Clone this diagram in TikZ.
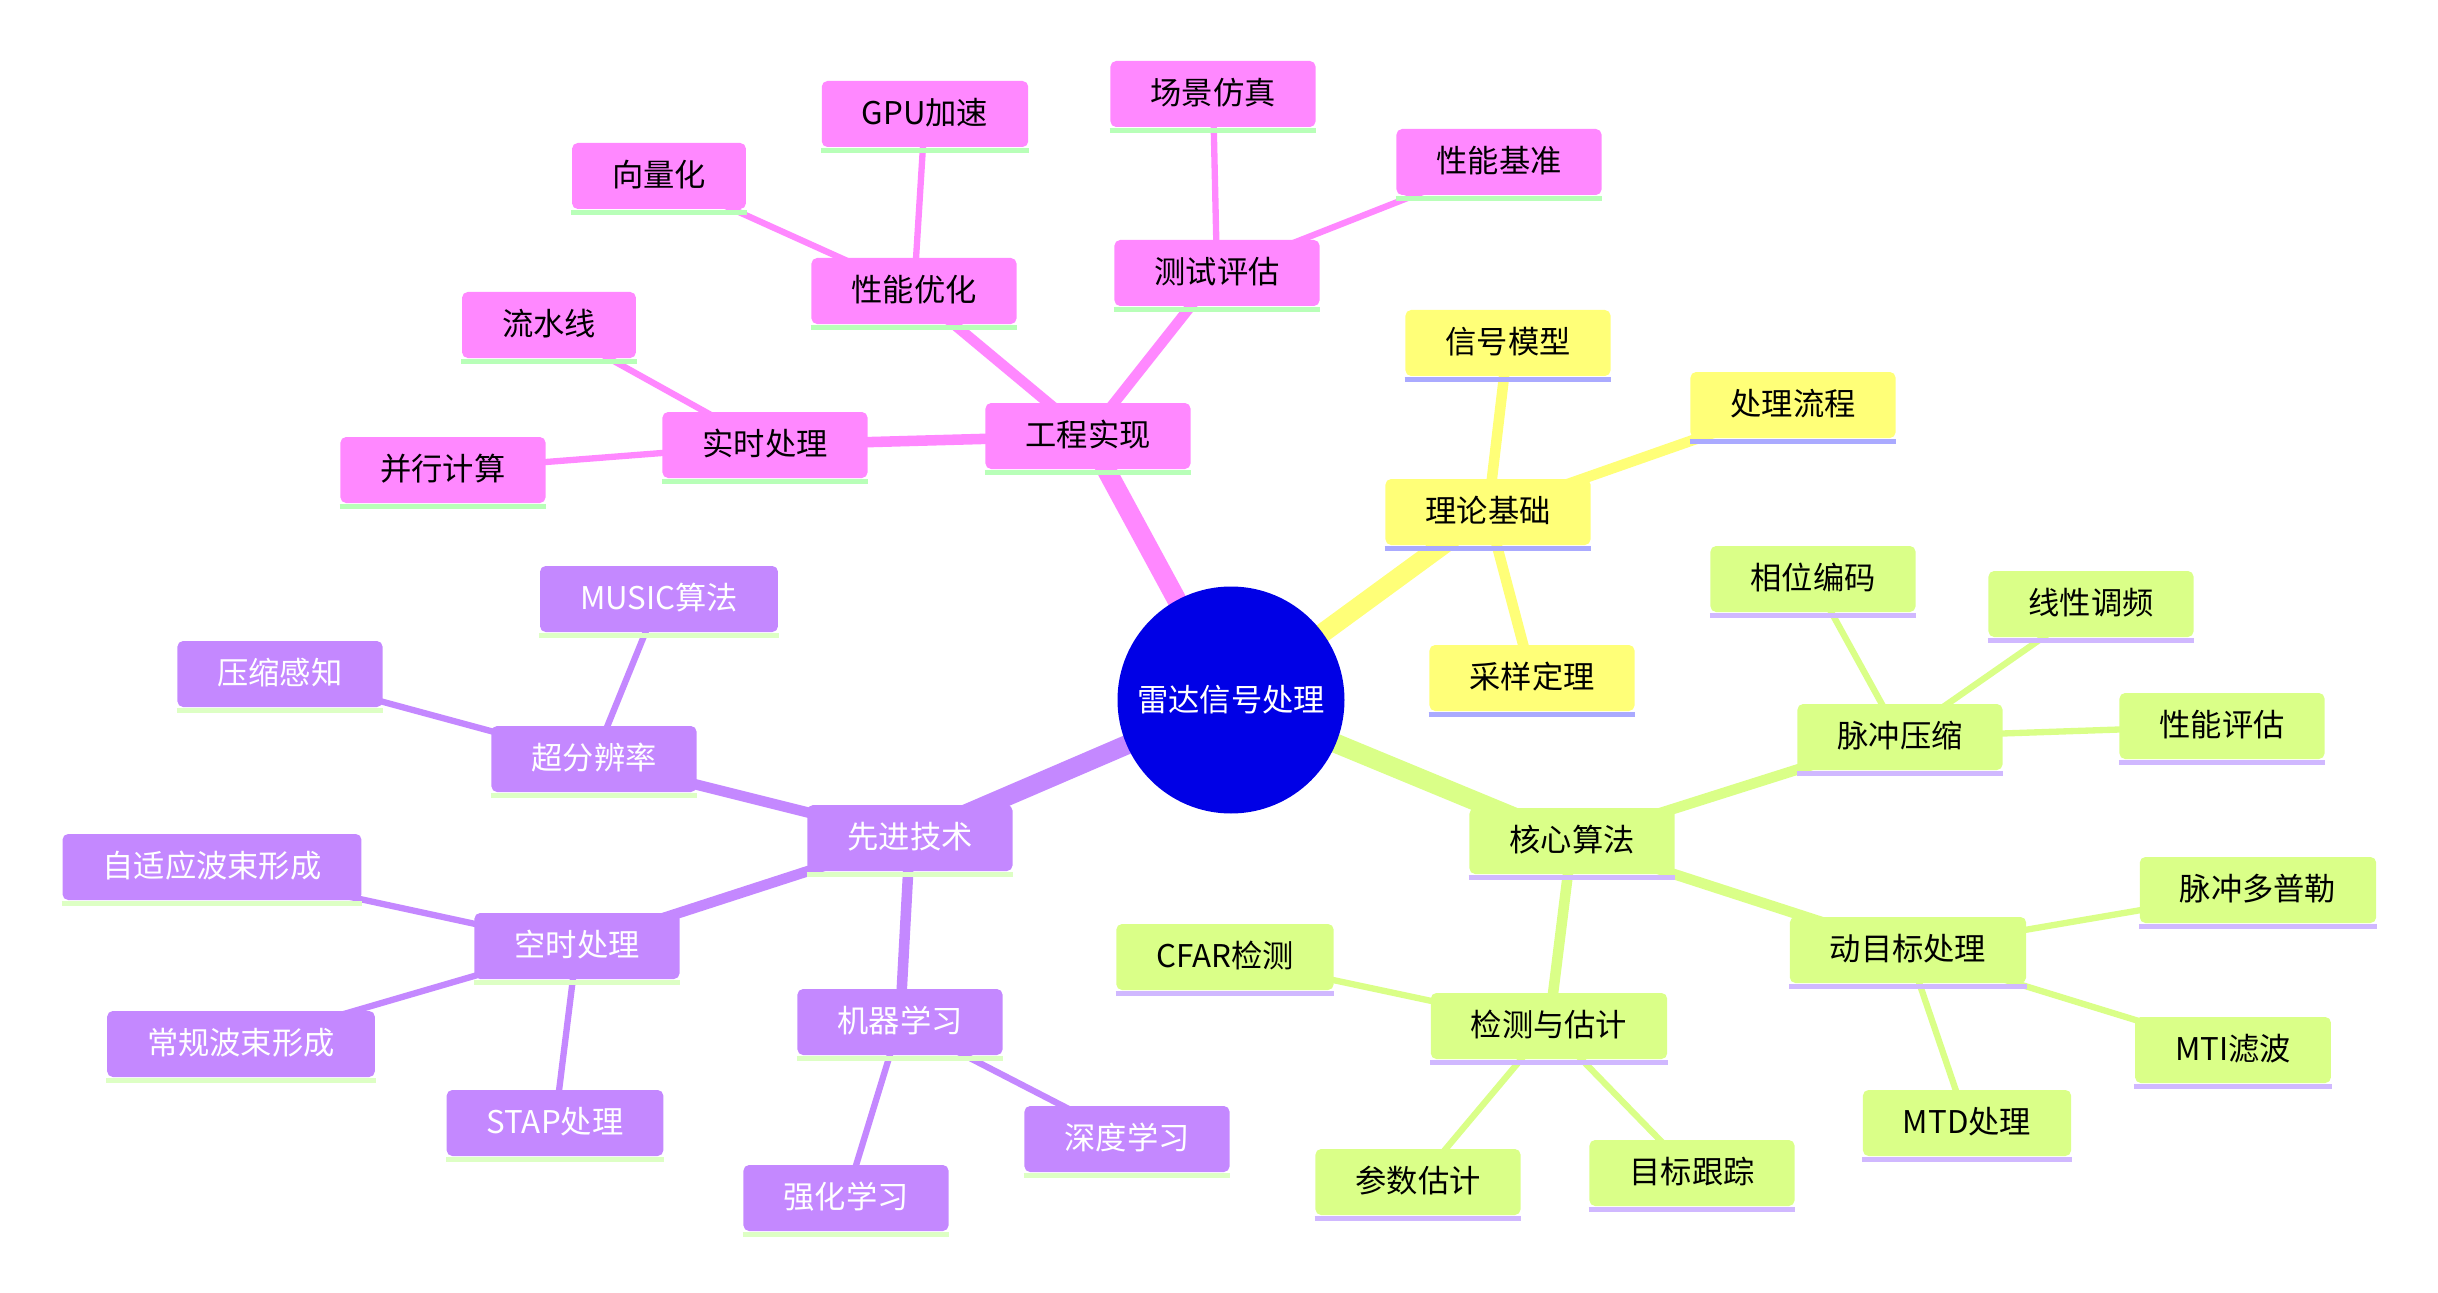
\documentclass[tikz,border=0pt]{standalone}
\usepackage{fontspec}
\setmainfont{Noto Sans CJK SC}
\usetikzlibrary{backgrounds}

\definecolor{rootblue}{RGB}{0,0,230}
\definecolor{engpink}{RGB}{255,136,255}
\definecolor{thyellow}{RGB}{255,255,120}
\definecolor{coregreen}{RGB}{218,255,136}
\definecolor{advpurple}{RGB}{196,136,255}
\definecolor{engline}{RGB}{184,255,184}
\definecolor{thline}{RGB}{170,170,255}
\definecolor{coreline}{RGB}{208,184,255}
\definecolor{advline}{RGB}{221,255,196}

\begin{document}
\begin{tikzpicture}[
  box/.style={rectangle,rounded corners=1.6pt,inner xsep=0.4cm,inner ysep=0pt,
    minimum height=0.66cm,text height=0.8em,text depth=0.2em,yshift=-0.03cm,
    font=\fontsize{8.9pt}{10pt}\selectfont},
  eng/.style={box,fill=engpink},
  thy/.style={box,fill=thyellow},
  core/.style={box,fill=coregreen},
  adv/.style={box,fill=advpurple,text=white},
  trunk/.style={line width=5.5pt},
  branch/.style={line width=3pt},
  twig/.style={line width=1.8pt},
  uline/.style={line width=1.6pt}]
  \useasboundingbox (0,0) rectangle (24.38,12.92);

  % root
  \node[circle,fill=rootblue,text=white,minimum size=2.27cm,inner sep=0pt,
    font=\fontsize{8.9pt}{10pt}\selectfont] (root) at (12.31,5.92) {雷达信号处理};

  % 工程实现
  \node[eng] (impl) at (10.88,8.59) {工程实现};
  \node[eng] (rt) at (7.65,8.50) {实时处理};
  \node[eng] (perf) at (9.14,10.04) {性能优化};
  \node[eng] (test) at (12.17,10.22) {测试评估};
  \node[eng] (pipe) at (5.49,9.70) {流水线};
  \node[eng] (par) at (4.43,8.25) {并行计算};
  \node[eng] (vec) at (6.59,11.19) {向量化};
  \node[eng] (gpu) at (9.25,11.81) {GPU加速};
  \node[eng] (scene) at (12.13,12.01) {场景仿真};
  \node[eng] (bench) at (14.99,11.33) {性能基准};

  % 理论基础
  \node[thy] (theory) at (14.88,7.83) {理论基础};
  \node[thy] (sigmod) at (15.08,9.52) {信号模型};
  \node[thy] (flow) at (17.93,8.90) {处理流程};
  \node[thy] (samp) at (15.32,6.17) {采样定理};

  % 核心算法
  \node[core] (algo) at (15.72,4.54) {核心算法};
  \node[core] (pc) at (19.00,5.58) {脉冲压缩};
  \node[core] (phase) at (18.13,7.16) {相位编码};
  \node[core] (lfm) at (20.91,6.91) {线性调频};
  \node[core] (peval) at (22.22,5.69) {性能评估};
  \node[core] (mt) at (19.08,3.45) {动目标处理};
  \node[core] (pd) at (22.58,4.05) {脉冲多普勒};
  \node[core] (mti) at (22.33,2.45) {MTI滤波};
  \node[core] (mtd) at (19.67,1.72) {MTD处理};
  \node[core] (det) at (15.49,2.69) {检测与估计};
  \node[core] (cfar) at (12.25,3.38) {CFAR检测};
  \node[core] (est) at (14.18,1.13) {参数估计};
  \node[core] (track) at (16.92,1.22) {目标跟踪};

  % 先进技术
  \node[adv] (tech) at (9.10,4.57) {先进技术};
  \node[adv] (sr) at (5.94,5.36) {超分辨率};
  \node[adv] (music) at (6.59,6.96) {MUSIC算法};
  \node[adv] (cs) at (2.80,6.21) {压缩感知};
  \node[adv] (st) at (5.77,3.49) {空时处理};
  \node[adv] (abf) at (2.12,4.28) {自适应波束形成};
  \node[adv] (cbf) at (2.41,2.51) {常规波束形成};
  \node[adv] (stap) at (5.55,1.72) {STAP处理};
  \node[adv] (ml) at (9.00,2.73) {机器学习};
  \node[adv] (dl) at (11.27,1.56) {深度学习};
  \node[adv] (rl) at (8.46,0.97) {强化学习};

  % underlines
  \foreach \n in {impl,rt,perf,test,pipe,par,vec,gpu,scene,bench}
    \draw[uline,engline] ([yshift=-0.8pt]\n.south west) -- ([yshift=-0.8pt]\n.south east);
  \foreach \n in {theory,sigmod,flow,samp}
    \draw[uline,thline] ([yshift=-0.8pt]\n.south west) -- ([yshift=-0.8pt]\n.south east);
  \foreach \n in {algo,pc,phase,lfm,peval,mt,pd,mti,mtd,det,cfar,est,track}
    \draw[uline,coreline] ([yshift=-0.8pt]\n.south west) -- ([yshift=-0.8pt]\n.south east);
  \foreach \n in {tech,sr,music,cs,st,abf,cbf,stap,ml,dl,rl}
    \draw[uline,advline] ([yshift=-0.8pt]\n.south west) -- ([yshift=-0.8pt]\n.south east);

  % connectors
  \begin{scope}[on background layer]
    \draw[trunk,engpink] (root.center) -- (impl.center);
    \draw[trunk,thyellow] (root.center) -- (theory.center);
    \draw[trunk,coregreen] (root.center) -- (algo.center);
    \draw[trunk,advpurple] (root.center) -- (tech.center);

    \foreach \n in {rt,perf,test}
      \draw[branch,engpink] (impl.center) -- (\n.center);
    \draw[twig,engpink] (rt.center) -- (pipe.center);
    \draw[twig,engpink] (rt.center) -- (par.center);
    \draw[twig,engpink] (perf.center) -- (vec.center);
    \draw[twig,engpink] (perf.center) -- (gpu.center);
    \draw[twig,engpink] (test.center) -- (scene.center);
    \draw[twig,engpink] (test.center) -- (bench.center);

    \foreach \n in {sigmod,flow,samp}
      \draw[branch,thyellow] (theory.center) -- (\n.center);

    \foreach \n in {pc,mt,det}
      \draw[branch,coregreen] (algo.center) -- (\n.center);
    \foreach \n in {phase,lfm,peval}
      \draw[twig,coregreen] (pc.center) -- (\n.center);
    \foreach \n in {pd,mti,mtd}
      \draw[twig,coregreen] (mt.center) -- (\n.center);
    \foreach \n in {cfar,est,track}
      \draw[twig,coregreen] (det.center) -- (\n.center);

    \foreach \n in {sr,st,ml}
      \draw[branch,advpurple] (tech.center) -- (\n.center);
    \foreach \n in {music,cs}
      \draw[twig,advpurple] (sr.center) -- (\n.center);
    \foreach \n in {abf,cbf,stap}
      \draw[twig,advpurple] (st.center) -- (\n.center);
    \foreach \n in {dl,rl}
      \draw[twig,advpurple] (ml.center) -- (\n.center);
  \end{scope}
\end{tikzpicture}
\end{document}
